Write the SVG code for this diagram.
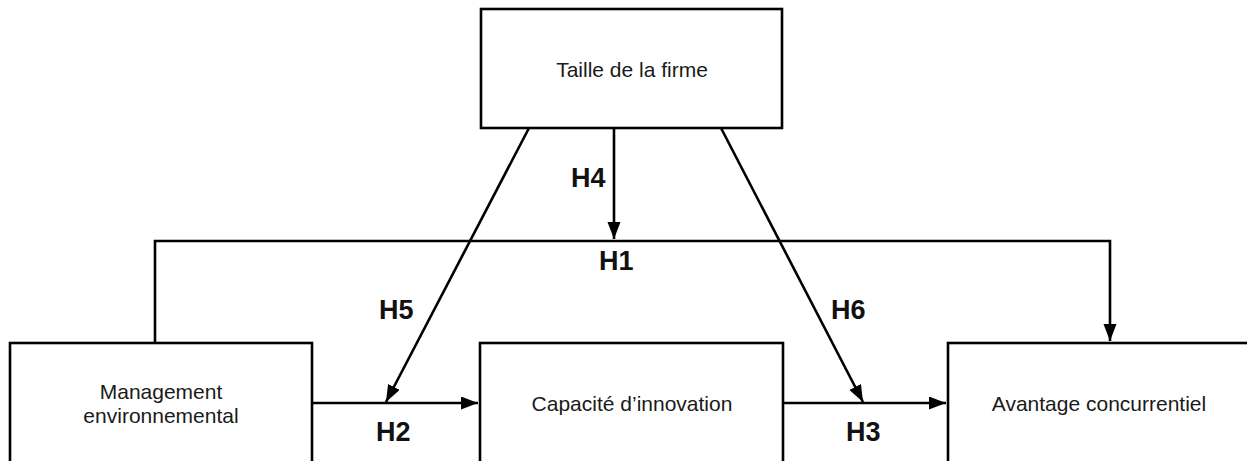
<svg xmlns="http://www.w3.org/2000/svg" width="1247" height="461" viewBox="0 0 1247 461">
<defs>
<marker id="arr" markerUnits="userSpaceOnUse" markerWidth="18" markerHeight="14" refX="17" refY="6.5" orient="auto">
<path d="M0,0 L17,6.5 L0,13 z" fill="#000"/>
</marker>
<style>
.box{fill:#fff;stroke:#000;stroke-width:2.6}
.lbl{font-family:"Liberation Sans",Arial,sans-serif;font-size:21px;fill:#1a1a1a;text-anchor:middle}
.h{font-family:"Liberation Sans",Arial,sans-serif;font-size:27px;font-weight:bold;fill:#111}
.c{fill:none;stroke:#000;stroke-width:2.6}
</style>
</defs>
<rect width="1247" height="461" fill="#fff"/>
<g id="connectors">
<path class="c" d="M155,343 V241 H1110 V341" marker-end="url(#arr)"/>
<path class="c" d="M614,128 V239" marker-end="url(#arr)"/>
<path class="c" d="M529,128 L386,402" marker-end="url(#arr)"/>
<path class="c" d="M721,128 L863,402" marker-end="url(#arr)"/>
<path class="c" d="M312,403 H478" marker-end="url(#arr)"/>
<path class="c" d="M783,403 H946" marker-end="url(#arr)"/>
</g>
<g id="node-taille">
<rect class="box" x="481" y="9" width="301" height="119"/>
<text class="lbl" x="632" y="77">Taille de la firme</text>
</g>
<g id="node-management">
<rect class="box" x="10" y="343" width="302" height="130"/>
<text class="lbl" x="161" y="399">Management</text>
<text class="lbl" x="161" y="423">environnemental</text>
</g>
<g id="node-capacite">
<rect class="box" x="480" y="343" width="303" height="130"/>
<text class="lbl" x="632" y="411">Capacité d’innovation</text>
</g>
<g id="node-avantage">
<rect class="box" x="948" y="343" width="320" height="130"/>
<text class="lbl" x="1099" y="411">Avantage concurrentiel</text>
</g>
<g id="labels">
<text class="h" x="571" y="187">H4</text>
<text class="h" x="599" y="270">H1</text>
<text class="h" x="379" y="319">H5</text>
<text class="h" x="831" y="319">H6</text>
<text class="h" x="376" y="441">H2</text>
<text class="h" x="846" y="441">H3</text>
</g>
</svg>
